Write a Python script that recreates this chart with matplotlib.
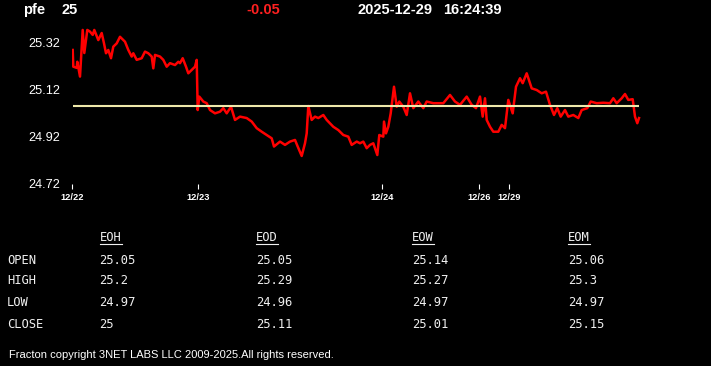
import matplotlib.pyplot as plt
from matplotlib.lines import Line2D

# ── Data ──────────────────────────────────────────────────────────────────────

# bar position (compressed trading time) and price
t = [0.7, 1.3, 4.7, 5.3, 8, 10.7, 12.3, 15.3, 18, 20.7, 22.3, 26.3, 29.7, 32, 34,
     36.3, 39, 41.3, 44.7, 48, 53, 56.3, 59.7, 61.3, 64.7, 69.7, 73, 76.3, 79.7,
     81.3, 83, 88, 91.3, 94.7, 98, 103, 106.3, 108, 110.7, 114, 116.3, 119.7, 123,
     124.7, 125.7, 127.3, 131.3, 134.7, 138, 143, 148, 151.3, 154.7, 159, 163, 168,
     174.7, 179.7, 184.7, 189.7, 194.7, 199.7, 202, 208, 213, 218, 223, 225.7,
     229.7, 233, 234.7, 236.3, 239.7, 243, 246.3, 251.3, 254.7, 261.3, 266.3,
     271.3, 276.3, 279.7, 284.7, 288, 291.3, 294.7, 298, 301.3, 305.3, 307.3,
     311.3, 312, 314, 316.3, 318.7, 322, 324.7, 327.3, 331.3, 334.7, 338, 341.3,
     346.3, 351.3, 354.7, 361.3, 371.3, 378, 383, 388, 394.7, 399.7, 404, 408,
     410.7, 413, 414.7, 418, 421.3, 426.3, 429.7, 433, 436.3, 440.7, 444, 448,
     450.7, 454.7, 459.7, 464.7, 469.7, 474, 478, 482, 485.3, 488.7, 493, 496.3,
     501.3, 506.3, 509.7, 515.3, 518.7, 524.7, 531.3, 538, 541.3, 544.7, 549.7,
     553, 556.3, 560.7, 563, 565.3, 567]
price = [25.289, 25.218, 25.213, 25.239, 25.176, 25.374, 25.276, 25.374, 25.367,
         25.353, 25.374, 25.331, 25.361, 25.317, 25.275, 25.289, 25.254, 25.303,
         25.317, 25.345, 25.324, 25.289, 25.261, 25.275, 25.247, 25.254, 25.282,
         25.275, 25.261, 25.211, 25.268, 25.261, 25.247, 25.218, 25.233, 25.225,
         25.239, 25.233, 25.254, 25.218, 25.190, 25.204, 25.218, 25.247, 25.034,
         25.091, 25.070, 25.063, 25.034, 25.020, 25.027, 25.042, 25.020, 25.048,
         24.992, 25.006, 25.000, 24.985, 24.957, 24.942, 24.928, 24.914, 24.879,
         24.900, 24.886, 24.900, 24.907, 24.879, 24.839, 24.893, 24.935, 25.051,
         24.992, 25.006, 25.000, 25.013, 24.992, 24.963, 24.949, 24.928, 24.921,
         24.886, 24.900, 24.893, 24.900, 24.872, 24.886, 24.893, 24.843, 24.928,
         24.921, 24.985, 24.935, 24.963, 25.020, 25.133, 25.048, 25.070, 25.048,
         25.013, 25.105, 25.042, 25.070, 25.042, 25.070, 25.063, 25.063, 25.098,
         25.070, 25.056, 25.091, 25.056, 25.042, 25.091, 25.006, 25.084, 24.992,
         24.963, 24.942, 24.942, 24.971, 24.957, 25.077, 25.020, 25.133, 25.169,
         25.148, 25.190, 25.126, 25.119, 25.105, 25.112, 25.056, 25.013, 25.042,
         25.006, 25.034, 25.006, 25.013, 25.000, 25.034, 25.042, 25.070, 25.063,
         25.065, 25.063, 25.084, 25.063, 25.084, 25.102, 25.077, 25.080, 25.006,
         24.978, 25.000]
prev_close = 25.05

date_ticks = [0, 125.7, 309.7, 407.3, 437.3]
date_labels = ["12/22", "12/23", "12/24", "12/26", "12/29"]
price_ticks = [25.32, 25.12, 24.92, 24.72]

symbol = "pfe"
last = "25"
change = "-0.05"
stamp_date = "2025-12-29"
stamp_time = "16:24:39"

row_names = ["OPEN", "HIGH", "LOW", "CLOSE"]
col_names = ["EOH", "EOD", "EOW", "EOM"]
eoh = ["25.05", "25.2", "24.97", "25"]
eod = ["25.05", "25.29", "24.96", "25.11"]
eow = ["25.14", "25.27", "24.97", "25.01"]
eom = ["25.06", "25.3", "24.97", "25.15"]

W, H = 711, 366


def fx(px):
    return px / W


def fy(py):
    return 1 - py / H


# ── Figure ────────────────────────────────────────────────────────────────────

fig = plt.figure(figsize=(W / 100, H / 100), dpi=100, facecolor="black")
ax = fig.add_axes([fx(72), fy(184), 628 / W, 159 / H], facecolor="black")

ax.plot(t, price, color="#ff0000", lw=1.8, zorder=2)
ax.hlines(prev_close, t[0], t[-1], color="#eee8aa", lw=1.5, zorder=3)

ax.set_xlim(0, 628)
ax.set_ylim(24.72, 25.395)
for s in ax.spines.values():
    s.set_visible(False)

ax.set_yticks(price_ticks)
ax.set_yticklabels([f"{v:.2f}" for v in price_ticks])
ax.tick_params(axis="y", length=0, pad=8.5, labelsize=9.2, colors="white")
ax.set_xticks(date_ticks)
ax.set_xticklabels(date_labels)
ax.tick_params(axis="x", length=3.5, width=0.8, pad=3, labelsize=6.7,
               colors="white")
for lbl in ax.get_xticklabels():
    lbl.set_fontweight("bold")
for lbl in ax.get_xticklabels() + ax.get_yticklabels():
    lbl.set_fontfamily("Liberation Sans")

# header
hdr = dict(color="white", fontsize=10.5, fontweight="bold",
           family="Liberation Sans", va="center", ha="left")
fig.text(fx(23), fy(10), symbol, **hdr)
fig.text(fx(62), fy(10), last, **hdr)
fig.text(fx(246.5), fy(10), change, **{**hdr, "color": "#ff2020"})
fig.text(fx(357.5), fy(10), stamp_date, **hdr)
fig.text(fx(443), fy(10), stamp_time, **hdr)

# summary table
mono = dict(color="#f0f0f0", fontsize=8.7, family="DejaVu Sans Mono",
            va="center", ha="left")
col_x = [99.5, 256, 412, 568]
row_y = [260, 281, 302.5, 324]
for cx, name, vals in zip(col_x, col_names, [eoh, eod, eow, eom]):
    fig.text(fx(cx), fy(238), name, **mono)
    fig.add_artist(Line2D([fx(cx), fx(cx + 22)], [fy(243.5), fy(243.5)],
                          color="#f0f0f0", lw=0.8))
    for ry, v in zip(row_y, vals):
        fig.text(fx(cx), fy(ry), v, **mono)
for ry, name in zip(row_y, row_names):
    fig.text(fx(7), fy(ry), name, **mono)

fig.text(fx(9), fy(355), "Fracton copyright 3NET LABS LLC 2009-2025.All rights reserved.",
         color="white", fontsize=8.0, family="Liberation Sans",
         va="center", ha="left")

fig.savefig("out.png", dpi=100, facecolor="black")
